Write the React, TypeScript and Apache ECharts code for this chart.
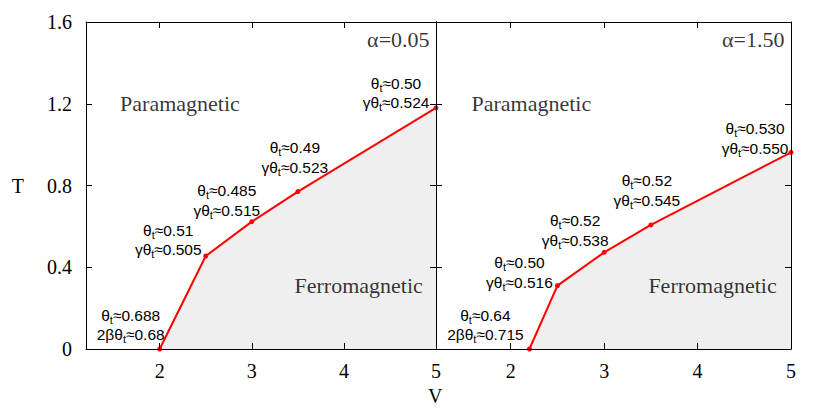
import React, { useEffect, useRef } from "react";
import * as echarts from "echarts";

// ---- data ----
const leftV = [2, 2.5, 3, 3.5, 5];
const leftT = [0, 0.455, 0.623, 0.77, 1.18];
const rightV = [2.2, 2.5, 3, 3.5, 5];
const rightT = [0, 0.31, 0.473, 0.607, 0.962];

const leftTheta = ["0.688", "0.51", "0.485", "0.49", "0.50"];
const leftGamma = ["0.68", "0.505", "0.515", "0.523", "0.524"];
const rightTheta = ["0.64", "0.50", "0.52", "0.52", "0.530"];
const rightGamma = ["0.715", "0.516", "0.538", "0.545", "0.550"];
const gammaPrefix = ["2β", "γ", "γ", "γ", "γ"];

const xTicks = [2, 3, 4, 5];
const panelTitles = ["α=0.05", "α=1.50"];

// ---- layout / style (not data) ----
const leftOffsets = [[-29, -24], [-37.5, -16], [-25, -21], [-3, -34], [-40, -15]];
const rightOffsets = [[-44, -24], [-38, -13], [-29, -22], [-4, -34.5], [-36, -14]];

const SERIF = "'Liberation Serif', 'Times New Roman', serif";
const SANS = "'Liberation Sans', Arial, sans-serif";

const grids = [
  { left: 86, top: 22, width: 350, height: 327 },
  { left: 436, top: 22, width: 355, height: 327 },
];

function annText(i: number, th: string[], g: string[]) {
  return `{a|θ}{s|t}{a|≈${th[i]}}\n{a|${gammaPrefix[i]}θ}{s|t}{a|≈${g[i]}}`;
}

const rich = {
  a: { fontFamily: SANS, fontSize: 15.5, color: "#000", lineHeight: 19.5 },
  s: { fontFamily: SANS, fontSize: 11, color: "#000", lineHeight: 19.5, padding: [9, 0, 0, 0] },
};

function lineSeries(xs: number[], ys: number[], th: string[], g: string[], offs: number[][], idx: number) {
  return {
    type: "line",
    xAxisIndex: idx * 2,
    yAxisIndex: idx * 2,
    clip: false,
    z: 2,
    symbol: "circle",
    symbolSize: 5,
    lineStyle: { color: "#ff0000", width: 2 },
    itemStyle: { color: "#ff0000" },
    areaStyle: { color: "#efefef", opacity: 1 },
    data: xs.map((x, i) => ({
      value: [x, ys[i]],
      label: {
        show: true,
        position: "inside",
        offset: offs[i],
        formatter: annText(i, th, g),
        rich,
        align: "center",
        verticalAlign: "middle",
      },
    })),
  };
}

function textSeries(idx: number) {
  const big = { fontFamily: SERIF, fontSize: 22, color: "#000" };
  return {
    type: "scatter",
    xAxisIndex: idx * 2,
    yAxisIndex: idx * 2,
    symbolSize: 0,
    silent: true,
    z: 4,
    data: [
      { value: [2.22, 1.2], label: { show: true, position: "inside", formatter: "Paramagnetic", ...big } },
      { value: [4.16, 0.31], label: { show: true, position: "inside", formatter: "Ferromagnetic", ...big } },
      {
        value: [4.93, 1.515],
        label: { show: true, position: "inside", formatter: panelTitles[idx], align: "right", ...big },
      },
    ],
  };
}

export default function App() {
  const ref = useRef<HTMLDivElement>(null);
  useEffect(() => {
    if (!ref.current) return;
    const chart = echarts.init(ref.current, undefined, { renderer: "svg" });
    const axisLine = { show: true, onZero: false, lineStyle: { color: "#000", width: 1 } };
    const tick = { show: true, inside: true, length: 6, lineStyle: { color: "#000" } };
    const xAxes: any[] = [];
    const yAxes: any[] = [];
    grids.forEach((_, gi) => {
      xAxes.push({
        type: "value",
        gridIndex: gi,
        position: "bottom",
        min: 1.2,
        max: 5,
        z: 3,
        axisLine,
        axisTick: { ...tick, customValues: xTicks },
        axisLabel: {
          show: true,
          customValues: xTicks,
          fontFamily: SERIF,
          fontSize: 20,
          color: "#000",
          margin: 12,
          showMinLabel: true,
          showMaxLabel: true,
        },
        splitLine: { show: false },
      });
      xAxes.push({
        type: "value",
        gridIndex: gi,
        position: "top",
        min: 1.2,
        max: 5,
        z: 3,
        axisLine,
        axisTick: { ...tick, customValues: xTicks },
        axisLabel: { show: false },
        splitLine: { show: false },
      });
      yAxes.push({
        type: "value",
        gridIndex: gi,
        position: "left",
        min: 0,
        max: 1.6,
        interval: 0.4,
        z: 3,
        axisLine,
        axisTick: tick,
        axisLabel: {
          show: gi === 0,
          fontFamily: SERIF,
          fontSize: 20,
          color: "#000",
          margin: 14,
          formatter: (v: number) => (v === 0 ? "0" : v.toFixed(1)),
        },
        splitLine: { show: false },
        name: gi === 0 ? "T" : "",
        nameLocation: "middle",
        nameGap: 62,
        nameRotate: 0,
        nameTextStyle: { fontFamily: SERIF, fontSize: 20, color: "#000" },
      });
      yAxes.push({
        type: "value",
        gridIndex: gi,
        position: "right",
        min: 0,
        max: 1.6,
        interval: 0.4,
        z: 3,
        axisLine,
        axisTick: tick,
        axisLabel: { show: false },
        splitLine: { show: false },
      });
    });

    chart.setOption({
      animation: false,
      backgroundColor: "#fff",
      grid: grids,
      xAxis: xAxes,
      yAxis: yAxes,
      series: [
        lineSeries(leftV, leftT, leftTheta, leftGamma, leftOffsets, 0),
        lineSeries(rightV, rightT, rightTheta, rightGamma, rightOffsets, 1),
        textSeries(0),
        textSeries(1),
      ],
      graphic: [
        {
          type: "text",
          left: 428,
          top: 386,
          style: { text: "V", fontFamily: SERIF, fontSize: 20, fill: "#000" },
        },
      ],
    });
    return () => chart.dispose();
  }, []);
  return (
    <div
      ref={ref}
      style={{ position: "fixed", left: 0, top: 0, width: 830, height: 415, background: "#fff" }}
    />
  );
}
